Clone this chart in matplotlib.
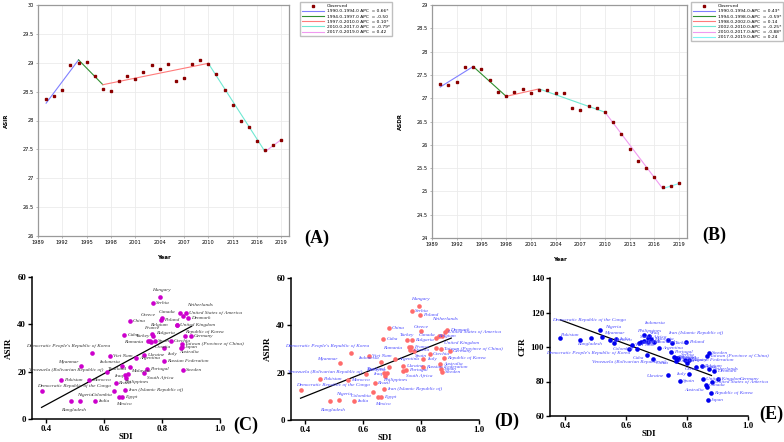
import matplotlib
matplotlib.use('Agg')
import matplotlib.pyplot as plt
from matplotlib.lines import Line2D

# ---- A / B: joinpoint trends ----
years = list(range(1990, 2020))
asir_obs = [28.38, 28.43, 28.52, 28.96, 28.99, 29.02, 28.77, 28.55, 28.51, 28.68,
            28.77, 28.71, 28.84, 28.96, 28.89, 28.98, 28.68, 28.74, 28.97, 29.04,
            28.98, 28.81, 28.53, 28.26, 28.00, 27.89, 27.65, 27.49, 27.58, 27.66]
asdr_obs = [27.31, 27.29, 27.34, 27.66, 27.66, 27.62, 27.38, 27.14, 27.04, 27.13,
            27.20, 27.11, 27.18, 27.18, 27.12, 27.12, 26.79, 26.74, 26.83, 26.79,
            26.70, 26.49, 26.23, 25.92, 25.66, 25.51, 25.30, 25.09, 25.12, 25.17]

asir_joints = [1990, 1994, 1997, 2010, 2017, 2019]
asir_joint_vals = [28.30, 29.05, 28.62, 28.99, 27.46, 27.67]
asir_seg_labels = ['1990.0-1994.0 APC  = 0.66*', '1994.0-1997.0 APC  = -0.50',
                   '1997.0-2010.0 APC  = 0.10*', '2010.0-2017.0 APC  = -0.79*',
                   '2017.0-2019.0 APC  = 0.42']
asdr_joints = [1990, 1994, 1998, 2002, 2010, 2017, 2019]
asdr_joint_vals = [27.24, 27.68, 27.04, 27.20, 26.70, 25.06, 25.17]
asdr_seg_labels = ['1990.0-1994.0:APC  = 0.43*', '1994.0-1998.0:APC  = -0.59*',
                   '1998.0-2002.0:APC  = 0.14', '2002.0-2010.0:APC  = -0.25*',
                   '2010.0-2017.0:APC  = -0.88*', '2017.0-2019.0:APC  = 0.24']

seg_colors_a = ['#8080ff', '#2f8f2f', '#ff7b7b', '#6fe8d2', '#f09af0']
seg_colors_b = ['#8080ff', '#2f8f2f', '#ff7b7b', '#6fe8d2', '#f09af0', '#7ff5f5']

# ---- C / D / E: SDI scatter ----
countries = ["Hungary", "Serbia", "Netherlands", "Greece", "Canada", "Poland",
             "United States of America", "Denmark", "China", "Belgium", "United Kingdom",
             "France", "Bulgaria", "Cuba", "Turkey", "Spain", "Romania", "Croatia",
             "Republic of Korea", "Germany", "Taiwan (Province of China)", "Japan",
             "Australia", "Italy", "Czechia", "Democratic People's Republic of Korea",
             "Viet Nam", "Ukraine", "Argentina", "Russian Federation", "Indonesia",
             "Myanmar", "Thailand", "Portugal", "Venezuela (Bolivarian Republic of)",
             "Iraq", "Malaysia", "Sweden", "Philippines", "Morocco", "South Africa",
             "Pakistan", "Brazil", "Democratic Republic of the Congo",
             "Iran (Islamic Republic of)", "Nigeria", "Colombia", "Egypt", "India",
             "Bangladesh", "Mexico"]
sdi = [0.792, 0.769, 0.872, 0.800, 0.862, 0.796, 0.882, 0.890, 0.688, 0.850, 0.853,
       0.765, 0.770, 0.669, 0.750, 0.776, 0.757, 0.763, 0.879, 0.900, 0.867, 0.869,
       0.866, 0.805, 0.830, 0.559, 0.619, 0.738, 0.709, 0.806, 0.660, 0.521, 0.690,
       0.746, 0.610, 0.673, 0.683, 0.873, 0.675, 0.548, 0.738, 0.450, 0.641, 0.383,
       0.671, 0.515, 0.634, 0.660, 0.567, 0.484, 0.650]
asir = [51.5, 48.9, 43.4, 42.7, 44.8, 41.7, 44.6, 42.6, 41.3, 39.9, 39.7,
        36.1, 35.0, 35.7, 32.9, 33.0, 32.9, 32.6, 35.1, 35.2, 31.8, 30.5,
        30.0, 30.0, 32.8, 27.7, 26.5, 27.0, 25.7, 24.3, 22.6, 22.2, 22.0,
        21.2, 19.8, 18.5, 19.0, 20.8, 17.5, 16.3, 19.5, 16.3, 15.3, 11.8,
        12.1, 7.4, 11.9, 9.1, 7.6, 7.4, 9.3]
asdr = [48.0, 46.0, 35.5, 37.6, 35.3, 44.5, 37.1, 38.1, 38.8, 34.5, 30.4,
        31.0, 33.8, 34.1, 33.6, 29.2, 31.0, 29.5, 26.4, 29.2, 30.0, 21.5,
        23.6, 25.7, 28.0, 28.5, 27.1, 22.9, 25.8, 22.6, 24.6, 23.9, 22.6,
        21.0, 19.5, 19.8, 20.0, 20.2, 18.4, 16.9, 20.5, 17.2, 15.8, 12.7,
        13.3, 8.5, 12.0, 9.6, 8.0, 7.9, 9.9]
cfr = [92.6, 93.2, 87.0, 90.5, 78.0, 102.8, 79.8, 86.2, 92.8, 89.0, 81.7,
       93.6, 93.8, 95.3, 102.1, 80.4, 94.0, 92.0, 73.6, 81.5, 94.8, 69.1,
       77.0, 84.3, 88.5, 102.5, 101.0, 83.7, 99.2, 92.4, 107.0, 106.0, 103.1,
       97.2, 99.0, 105.4, 104.5, 96.3, 106.6, 104.1, 104.1, 104.3, 102.1, 105.4,
       103.0, 110.0, 98.8, 103.7, 104.7, 105.1, 102.7]

# fitted lines (SDI range -> value)
fit_sdi = [0.383, 0.902]
asir_fit = [4.9, 39.2]
asdr_fit_sdi = [0.383, 0.904]
asdr_fit = [9.2, 34.6]
cfr_fit_sdi = [0.384, 0.880]
cfr_fit = [115.7, 83.5]

# label nudges in pixels (dx, dy, ha); everything else sits to the right
lab_c = {"Hungary": (2, 7, 'center'), "Netherlands": (4, 11, 'left'),
         "Greece": (-6, 3, 'right'), "Canada": (-5, 1, 'right'),
         "Belgium": (-8, 0, 'right'), "France": (0, 6, 'center'),
         "Bulgaria": (3, 3, 'left'), "Turkey": (2, 5, 'right'),
         "Romania": (-7, -1, 'right'), "Croatia": (3, -5, 'left'),
         "Republic of Korea": (0, 4, 'left'), "Australia": (-2, -4, 'left'),
         "Italy": (3, -6, 'left'), "Democratic People's Republic of Korea": (18, 7, 'right'),
         "Indonesia": (-2, 4, 'right'), "Myanmar": (-3, 4, 'right'),
         "Thailand": (-4, -2, 'right'), "Venezuela (Bolivarian Republic of)": (-4, 2, 'right'),
         "Iraq": (-2, -1, 'right'), "Malaysia": (3, 3, 'left'),
         "South Africa": (3, -5, 'left'), "Philippines": (-2, -4, 'left'),
         "Democratic Republic of the Congo": (-4, 5, 'left'), "Nigeria": (-3, 6, 'left'),
         "Colombia": (-2, -4, 'right'), "Bangladesh": (4, -9, 'center'),
         "Mexico": (-3, -7, 'left')}
lab_d = dict(lab_c)
lab_d.update({"Netherlands": (-10, 17, 'left'), "Greece": (0, 4, 'center'),
              "Turkey": (0, 5, 'center'), "Canada": (-4, 1, 'right'),
              "Belgium": (3, 2, 'left'), "United Kingdom": (8, 5, 'left'),
              "Spain": (1, -5, 'left'), "France": (3, 0, 'left'),
              "Australia": (3, 0, 'left'), "Italy": (4, 0, 'left'),
              "Malaysia": (-2, 3, 'right'), "Bulgaria": (3, 0, 'left'),
              "Republic of Korea": (3, 0, 'left'), "Croatia": (3, 0, 'left')})
lab_e = {"Democratic Republic of the Congo": (-8, 18, 'left'), "Nigeria": (5, 3, 'left'),
         "Pakistan": (-2, 5, 'right'), "Myanmar": (2, 4, 'left'),
         "Bangladesh": (0, -6, 'center'), "Democratic People's Republic of Korea": (17, -10, 'right'),
         "Colombia": (-3, 0, 'right'), "Venezuela (Bolivarian Republic of)": (0, -13, 'center'),
         "Indonesia": (0, 12, 'left'), "Philippines": (0, 5, 'center'),
         "Iraq": (2, 5, 'left'), "South Africa": (-2, 3, 'right'),
         "Iran (Islamic Republic of)": (20, 9, 'left'), "Cuba": (-3, -3, 'right'),
         "China": (3, -4, 'left'), "Greece": (-2, -6, 'left'), "Serbia": (3, 4, 'left'),
         "Australia": (-3, -3, 'right'), "Italy": (-3, 0, 'right'),
         "Ukraine": (-4, -1, 'right'), "Germany": (22, 0, 'left')}

serif = 'Liberation Serif'

fig = plt.figure(figsize=(7.84, 4.42), dpi=100)


def trend_panel(rect, obs, joints, vals, labels, colors, ylim, yticks, ylabel, leg_x, tag, tag_xy):
    ax = fig.add_axes(rect)
    ax.set_xlim(1989, 2019.95)
    ax.set_ylim(*ylim)
    ax.set_xticks(range(1989, 2020, 3))
    ax.set_yticks(yticks)
    ax.set_yticklabels([f'{t:g}' for t in yticks])
    ax.grid(True, color='#ebebeb', lw=0.6)
    ax.set_axisbelow(True)
    for s in ax.spines.values():
        s.set_color('#9a9a9a')
        s.set_linewidth(0.9)
    ax.tick_params(labelsize=3.6, length=1.5, width=0.5, color='#9a9a9a', pad=1.5)
    handles = [Line2D([], [], ls='none', marker='s', ms=2, color='#8b0000')]
    ax.plot(years, obs, ls='none', marker='s', ms=1.9, color='#8b0000', zorder=3)
    for i in range(len(joints) - 1):
        ax.plot(joints[i:i + 2], vals[i:i + 2], color=colors[i], lw=0.8, zorder=2)
        handles.append(Line2D([], [], color=colors[i], lw=0.8))
    ax.set_xlabel('Year', fontsize=4, fontweight='bold', labelpad=7)
    ax.set_ylabel(ylabel, fontsize=4, fontweight='bold', labelpad=10)
    fig.legend(handles, ['Observed'] + labels, loc='upper left',
               bbox_to_anchor=(leg_x, 1.0), fontsize=3.2, frameon=True,
               fancybox=False, edgecolor='#b0b0b0', handlelength=5,
               labelspacing=0.25, borderpad=0.4, handletextpad=0.6)
    fig.text(tag_xy[0], tag_xy[1], tag, fontsize=13, fontweight='bold',
             family=serif, ha='center', va='center')
    return ax


trend_panel([38 / 784, 1 - 236 / 442, 251 / 784, 231 / 442], asir_obs, asir_joints,
            asir_joint_vals, asir_seg_labels, seg_colors_a, (26, 30),
            [26, 26.5, 27, 27.5, 28, 28.5, 29, 29.5, 30], 'ASIR', 298 / 784, '(A)',
            (317 / 784, 1 - 238 / 442))
trend_panel([432 / 784, 1 - 238 / 442, 255 / 784, 233 / 442], asdr_obs, asdr_joints,
            asdr_joint_vals, asdr_seg_labels, seg_colors_b, (24, 29),
            [24, 24.5, 25, 25.5, 26, 26.5, 27, 27.5, 28, 28.5, 29], 'ASDR', 689 / 784, '(B)',
            (714 / 784, 1 - 235 / 442))


def sdi_panel(rect, yvals, fit_x, fit_y, ylim, yticks, ylabel, dot_c, txt_c, offsets, tag, tag_xy):
    ax = fig.add_axes(rect)
    ax.set_xlim(0.35, 1.0)
    ax.set_ylim(*ylim)
    ax.set_xticks([0.4, 0.6, 0.8, 1.0])
    ax.set_yticks(yticks)
    for s in ['top', 'right']:
        ax.spines[s].set_visible(False)
    for s in ['left', 'bottom']:
        ax.spines[s].set_linewidth(1.1)
    ax.tick_params(length=3, width=1.0, pad=1.2)
    for lab in ax.get_xticklabels() + ax.get_yticklabels():
        lab.set_fontfamily(serif)
        lab.set_fontweight('bold')
        lab.set_fontsize(6.3)
    ax.scatter(sdi, yvals, s=11, color=dot_c, linewidths=0, zorder=3)
    ax.plot(fit_x, fit_y, color='black', lw=0.9, zorder=2)
    for name, x, y in zip(countries, sdi, yvals):
        dx, dy, ha = offsets.get(name, (3, 0, 'left'))
        ax.annotate(name, (x, y), xytext=(dx, dy), textcoords='offset pixels',
                    ha=ha, va='center', fontsize=3.8, fontstyle='italic',
                    family=serif, color=txt_c, zorder=4)
    ax.set_xlabel('SDI', fontsize=6.3, fontweight='bold', family=serif, labelpad=0)
    ax.set_ylabel(ylabel, fontsize=6.5, fontweight='bold', family=serif, labelpad=3)
    fig.text(tag_xy[0], tag_xy[1], tag, fontsize=13, fontweight='bold',
             family=serif, ha='center', va='center')
    return ax


sdi_panel([32 / 784, 1 - 419 / 442, 188 / 784, 142 / 442], asir, fit_sdi, asir_fit,
          (0, 60), [0, 20, 40, 60], 'ASIR', '#cc00cc', '#333333', lab_c, '(C)',
          (246 / 784, 1 - 425 / 442))
sdi_panel([291 / 784, 1 - 420 / 442, 188 / 784, 142 / 442], asdr, asdr_fit_sdi,
          asdr_fit, (0, 60), [0, 20, 40, 60], 'ASDR', '#ff6b6b', '#4a4aff', lab_d, '(D)',
          (507 / 784, 1 - 421 / 442))
sdi_panel([550 / 784, 1 - 416 / 442, 198 / 784, 138 / 442], cfr, cfr_fit_sdi, cfr_fit,
          (60, 140), [60, 80, 100, 120, 140], 'CFR', '#0000ee', '#4a4aff', lab_e, '(E)',
          (771 / 784, 1 - 414 / 442))

fig.savefig('out.png', dpi=100)
